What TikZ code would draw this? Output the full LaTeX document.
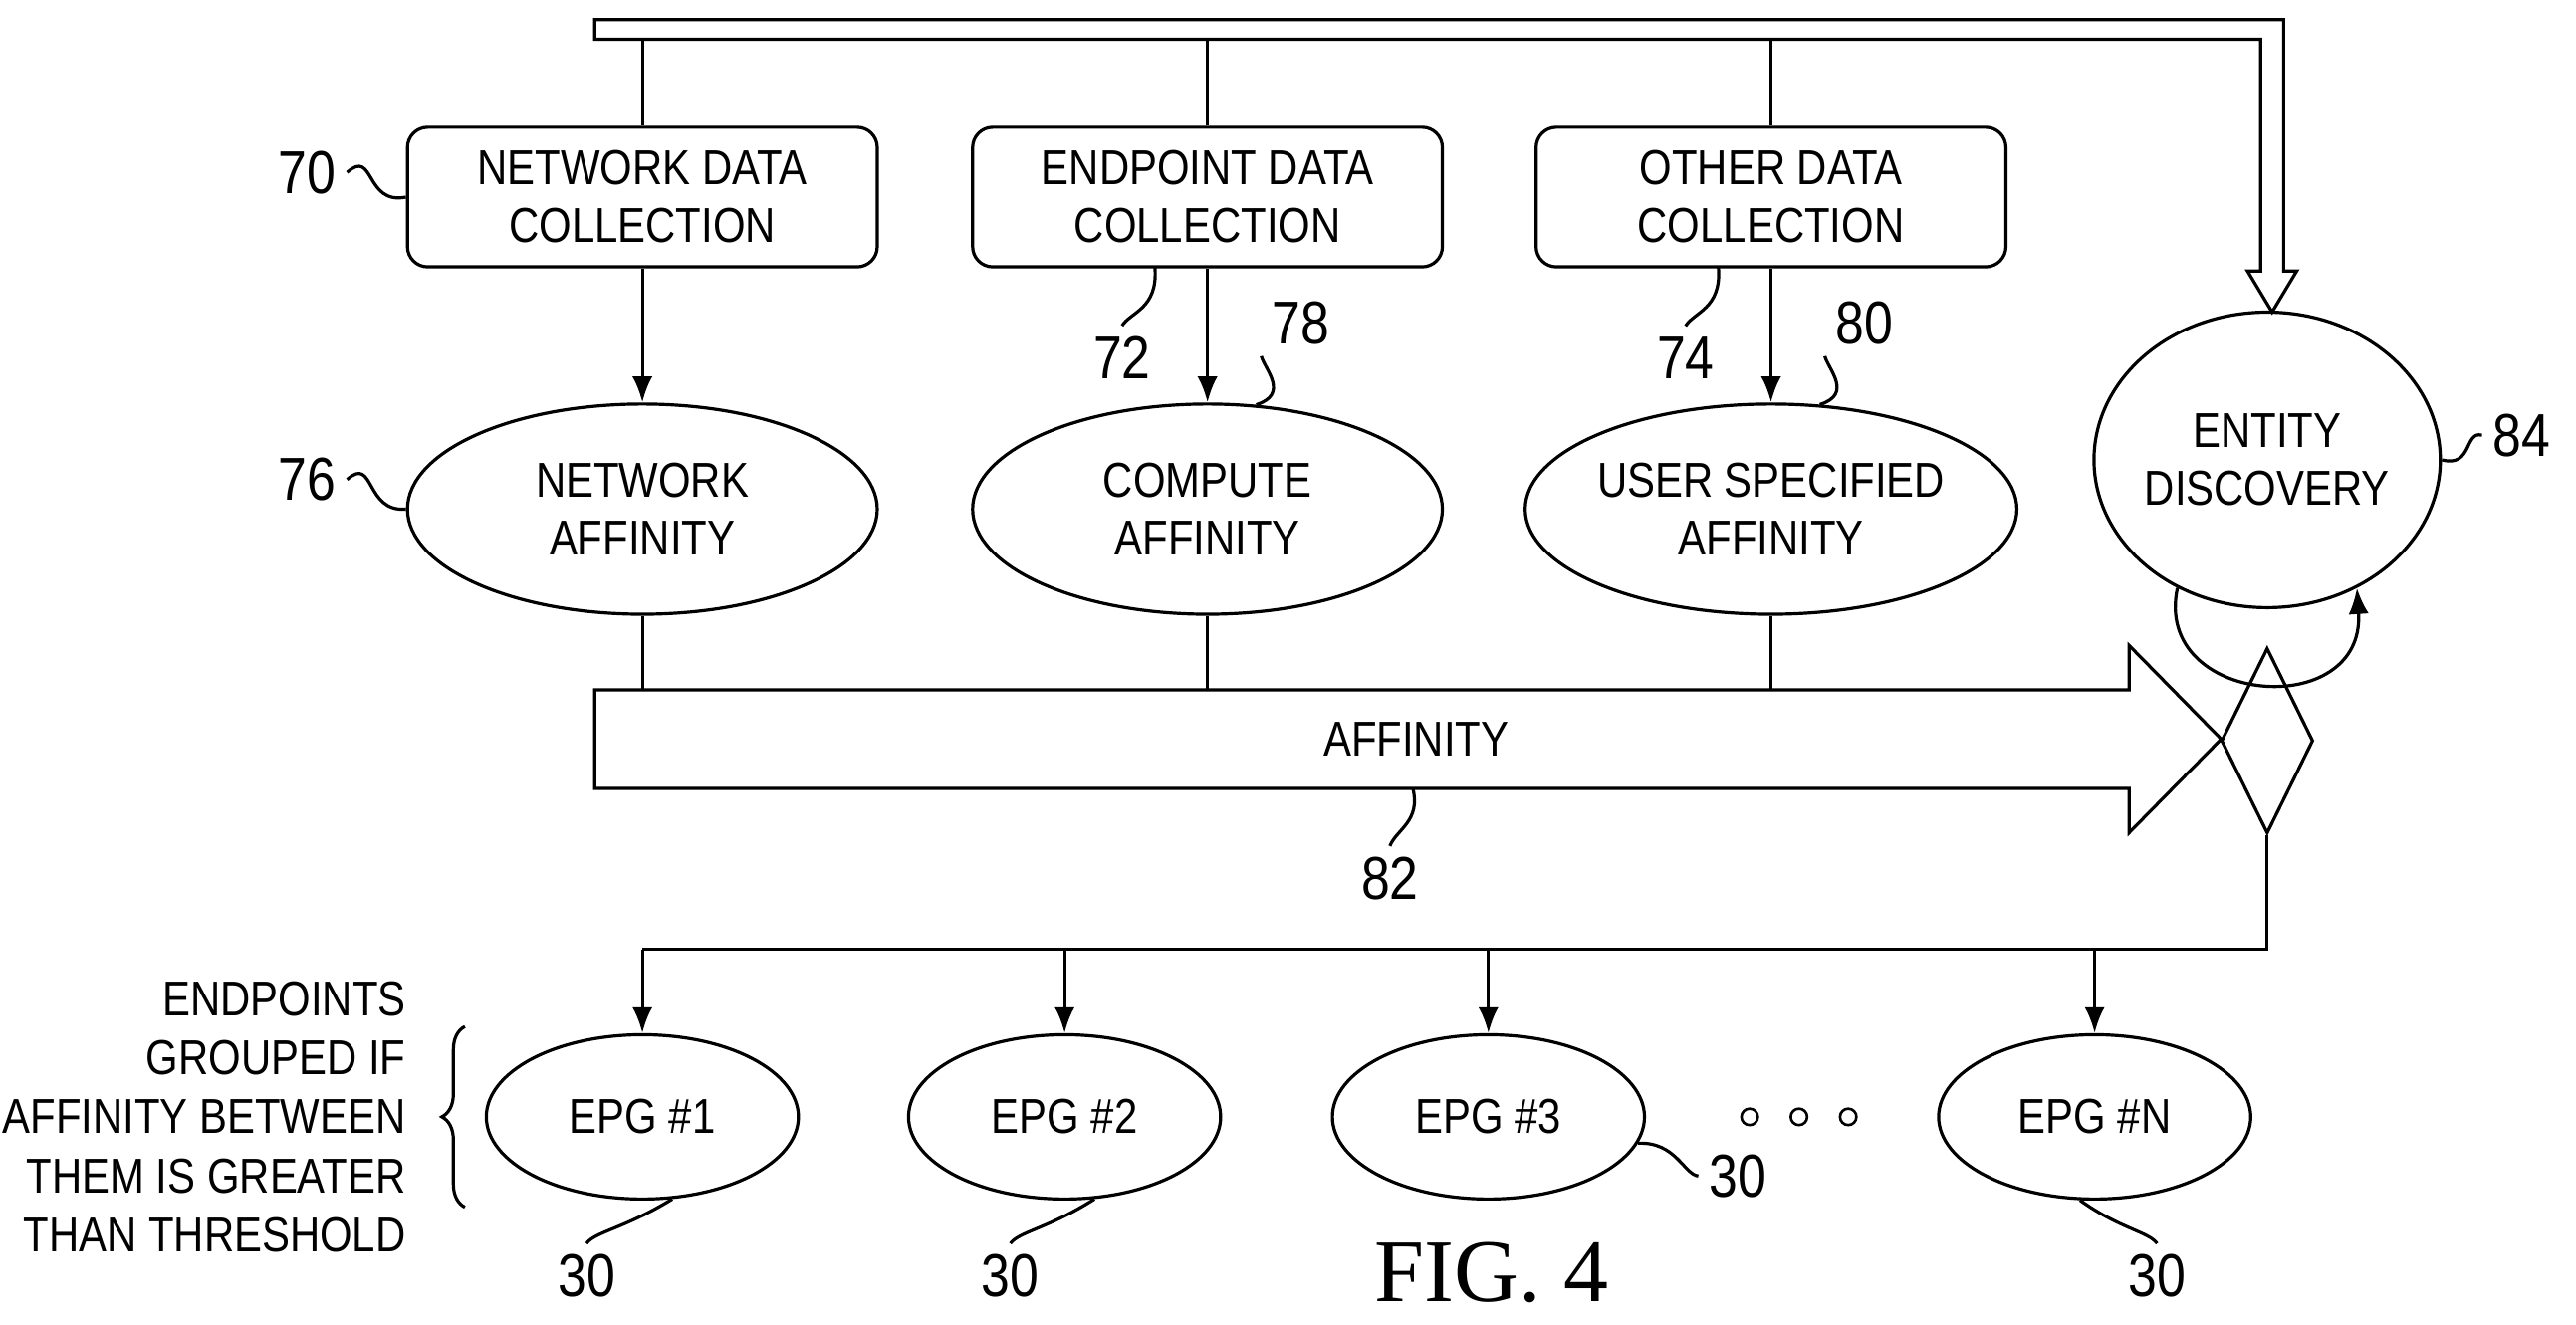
\documentclass[tikz,border=0pt]{standalone}
\usepackage{fontspec}
\setmainfont{Liberation Sans}[FakeStretch=0.85]
\newfontfamily\figfont{Liberation Serif}
\usetikzlibrary{arrows.meta,shapes.geometric,decorations.pathreplacing}
\tikzset{
  every path/.style={line width=1.1pt},
  box/.style={draw,rounded corners=7pt,minimum width=5.72cm,minimum height=1.7cm,align=center,font=\fontsize{17}{20}\selectfont},
  aff/.style={draw,ellipse,minimum width=5.72cm,minimum height=2.56cm,inner sep=0pt,align=center,font=\fontsize{17}{20}\selectfont},
  epg/.style={draw,ellipse,minimum width=3.8cm,minimum height=2cm,font=\fontsize{17}{20}\selectfont},
  num/.style={font=\fontsize{21}{24}\selectfont},
  arr/.style={-{Latex[length=9pt,width=7pt]}},
}
\begin{document}
\begin{tikzpicture}[x=0.02cm,y=-0.02cm]
  \useasboundingbox (0,0) rectangle (1568,806.7);
  % top bus
  \draw (362,12) -- (1390,12) -- (1390,165) -- (1398,165) -- (1383,190)
        -- (1368,165) -- (1376,165) -- (1376,24) -- (362,24) -- cycle;
  % data collection
  \node[box] (net) at (391,120) {NETWORK DATA\\COLLECTION};
  \node[box] (end) at (735,120) {ENDPOINT DATA\\COLLECTION};
  \node[box] (oth) at (1078,120) {OTHER DATA\\COLLECTION};
  \foreach \n/\x in {net/391,end/735,oth/1078}{
    \coordinate (t\n) at (\x,24);
    \draw (t\n) -- (\n.north);
  }
  % affinities
  \node[aff] (naff) at (391,310) {NETWORK\\AFFINITY};
  \node[aff] (caff) at (735,310) {COMPUTE\\AFFINITY};
  \node[aff] (uaff) at (1078,310) {USER SPECIFIED\\AFFINITY};
  \draw[arr] (net) -- (naff);
  \draw[arr] (end) -- (caff);
  \draw[arr] (oth) -- (uaff);
  \node[draw,ellipse,minimum width=3.94cm,minimum height=3.6cm,inner sep=0pt,align=center,
        font=\fontsize{17}{20}\selectfont] (ent) at (1380,280) {ENTITY\\DISCOVERY};
  % affinity arrow
  \draw (362,420) -- (1296,420) -- (1296,393) -- (1352,450) -- (1296,507)
        -- (1296,480) -- (362,480) -- cycle;
  \node[font=\fontsize{17}{20}\selectfont] (afftxt) at (862,450) {AFFINITY};
  \foreach \n/\x in {naff/391,caff/735,uaff/1078}{
    \coordinate (b\n) at (\x,420);
    \draw (\n.south) -- (b\n);
  }
  % diamond
  \node[draw,diamond,minimum width=1.12cm,minimum height=2.26cm,inner sep=0pt] (dec) at (1380,451) {};
  \draw[arr] (ent.235) .. controls (1310,430) and (1440,440) .. (ent.-55);
  % groups
  \coordinate (split) at (1380,578);
  \draw (dec.south) -- (split) -- (391,578);
  \node[epg] (g1) at (391,680) {EPG \#1};
  \node[epg] (g2) at (648,680) {EPG \#2};
  \node[epg] (g3) at (906,680) {EPG \#3};
  \node[epg] (gn) at (1275,680) {EPG \#N};
  \foreach \g/\x in {g1/391,g2/648,g3/906,gn/1275}{
    \coordinate (s\g) at (\x,578);
    \draw[arr] (s\g) -- (\g.north);
  }
  \foreach \x in {1065,1095,1125}{
    \draw[line width=0.9pt] (\x,680) circle (5);
  }
  \node[align=right,anchor=east,inner sep=0pt,font=\fontsize{17}{20.5}\selectfont] (note) at (248,680)
    {ENDPOINTS\\GROUPED IF\\AFFINITY BETWEEN\\THEM IS GREATER\\THAN THRESHOLD};
  \draw[decorate,decoration={brace,amplitude=8pt}] (283,735) -- (283,625);
  % reference numerals
  \node[num] (l70) at (187,105) {70};
  \draw (l70.east) .. controls (228,90) and (222,125) .. (net.west|-0,120);
  \node[num] (l76) at (187,292) {76};
  \draw (l76.east) .. controls (228,277) and (222,312) .. (naff.west);
  \node[num] (l72) at (683,218) {72};
  \draw (l72.north) .. controls (688,190) and (705,188) .. (703,163);
  \node[num] (l74) at (1026,218) {74};
  \draw (l74.north) .. controls (1031,190) and (1048,188) .. (1046,163);
  \node[num] (l78) at (792,197) {78};
  \draw (l78.south west) .. controls (770,225) and (785,240) .. (caff.65);
  \node[num] (l80) at (1135,197) {80};
  \draw (l80.south west) .. controls (1113,225) and (1128,240) .. (uaff.65);
  \node[num] (l84) at (1535,265) {84};
  \draw (l84.west) .. controls (1500,262) and (1505,285) .. (ent.east);
  \node[num] (l82) at (846,535) {82};
  \draw (l82.north) .. controls (850,505) and (865,500) .. (860,480);
  \node[num] (n1) at (357,777) {30};
  \draw (n1.north) .. controls (362,750) and (380,748) .. (g1.-70);
  \node[num] (n2) at (615,777) {30};
  \draw (n2.north) .. controls (620,750) and (638,748) .. (g2.-70);
  \node[num] (n3) at (1058,716) {30};
  \draw (n3.west) .. controls (1025,715) and (1020,695) .. (g3.-10);
  \node[num] (nn) at (1313,777) {30};
  \draw (nn.north) .. controls (1308,750) and (1290,748) .. (gn.-100);
  \node[font=\figfont\fontsize{31}{34}\selectfont] (fig) at (908,775) {FIG. 4};
\end{tikzpicture}
\end{document}
